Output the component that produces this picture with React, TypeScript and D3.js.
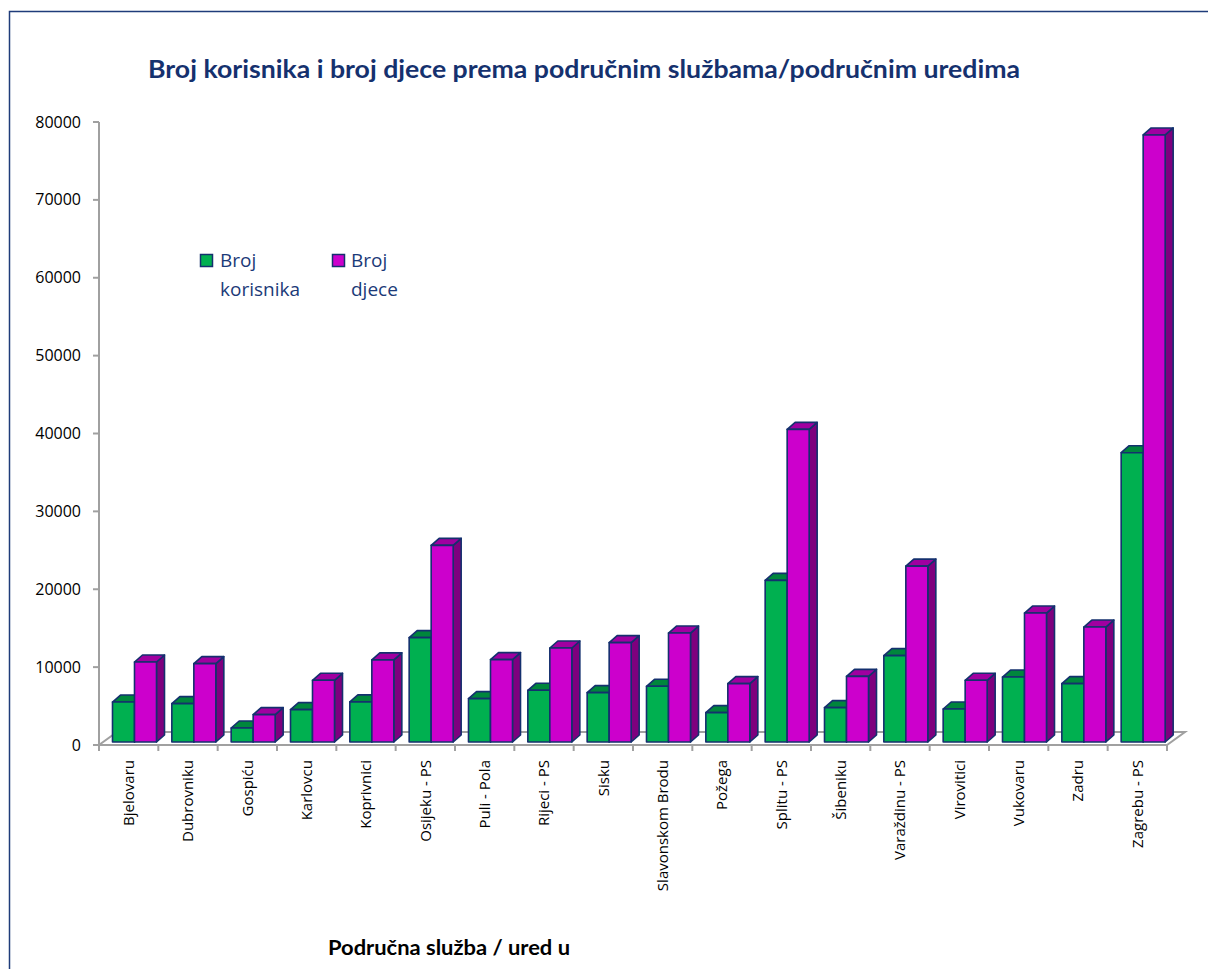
import React from "react";
import * as d3 from "d3";

const categories = [
  "Bjelovaru", "Dubrovniku", "Gospiću", "Karlovcu", "Koprivnici", "Osijeku - PS",
  "Puli - Pola", "Rijeci - PS", "Sisku", "Slavonskom Brodu", "Požega", "Splitu - PS",
  "Šibeniku", "Varaždinu - PS", "Virovitici", "Vukovaru", "Zadru", "Zagrebu - PS",
];
const brojKorisnika = [5130, 4930, 1800, 4160, 5150, 13400, 5570, 6640, 6340, 7150, 3770, 20760, 4420, 11090, 4240, 8340, 7500, 37150];
const brojDjece = [10270, 10060, 3520, 7920, 10550, 25250, 10580, 12070, 12760, 13990, 7500, 40140, 8430, 22590, 7920, 16560, 14760, 77950];
const yTicks = [0, 10000, 20000, 30000, 40000, 50000, 60000, 70000, 80000];
const seriesNames = ["Broj korisnika", "Broj djece"];

const W = 1208;
const H = 969;
const NAVY = "#14306E";
const AXIS = "#A0A0A0";
const FONT = "'Open Sans', 'DejaVu Sans', sans-serif";

const GREEN = { front: "#00B050", top: "#00863C", side: "#006E30" };
const MAGENTA = { front: "#CC00CC", top: "#A000A0", side: "#7E007E" };

export default function App() {
  const y = d3.scaleLinear().domain([0, 80000]).range([745, 122]);
  const x = d3.scaleBand<string>().domain(categories).range([99, 1167]).padding(0);
  const bw = x.bandwidth();
  const barW = 22;
  const dx = 8;
  const dy = -7;
  const baseShift = 3; // bars sit slightly behind the front floor edge
  const base = y(0) - baseShift;
  const floorDx = 18;
  const floorDy = -13;

  const bar = (bx: number, v: number, c: typeof GREEN, key: string) => {
    const top = y(v) - baseShift;
    const pts = (arr: number[][]) => arr.map((p) => p.join(",")).join(" ");
    return (
      <g key={key} stroke={NAVY} strokeWidth={1.6} strokeLinejoin="round">
        <polygon
          points={pts([[bx + barW, top], [bx + barW + dx, top + dy], [bx + barW + dx, base + dy], [bx + barW, base]])}
          fill={c.side}
        />
        <polygon
          points={pts([[bx, top], [bx + dx, top + dy], [bx + barW + dx, top + dy], [bx + barW, top]])}
          fill={c.top}
        />
        <rect x={bx} y={top} width={barW} height={base - top} fill={c.front} />
      </g>
    );
  };

  const x0 = 99, x1 = 1167, fy = y(0);

  return (
    <svg width={W} height={H} style={{ position: "absolute", left: 0, top: 0, background: "#fff" }} fontFamily={FONT}>
      <rect x={0} y={0} width={W} height={H} fill="#fff" />
      <rect x={9.5} y={11.5} width={1300} height={1100} fill="none" stroke="#1F3C7A" strokeWidth={1.5} />

      <text x={148} y={78} fontFamily="Lato, 'Open Sans', sans-serif" fontWeight="bold" fontSize={24} fill="#15316E"
        textLength={872} lengthAdjust="spacingAndGlyphs">
        Broj korisnika i broj djece prema područnim službama/područnim uredima
      </text>

      {/* floor */}
      <polygon
        points={`${x0},${fy} ${x1},${fy} ${x1 + floorDx},${fy + floorDy} ${x0 + floorDx},${fy + floorDy}`}
        fill="none" stroke={AXIS} strokeWidth={2}
      />
      {/* y axis */}
      <line x1={x0} x2={x0} y1={y(80000)} y2={fy} stroke={AXIS} strokeWidth={2} />
      {yTicks.map((t) => (
        <g key={t}>
          <line x1={x0 - 6} x2={x0} y1={y(t)} y2={y(t)} stroke={AXIS} strokeWidth={2} />
          <text x={81} y={y(t) + 5.5} textAnchor="end" fontSize={16} fill="#000">{t}</text>
        </g>
      ))}
      {/* x ticks */}
      {categories.concat(["__end"]).map((c, i) => {
        const tx = i < categories.length ? (x(c) as number) : x1;
        return <line key={"t" + i} x1={tx} x2={tx} y1={fy} y2={fy + 6} stroke={AXIS} strokeWidth={2} />;
      })}

      {/* bars */}
      {categories.map((c, i) => {
        const bx = x(c) as number;
        return (
          <g key={c}>
            {bar(bx + 13.5, brojKorisnika[i], GREEN, "g")}
            {bar(bx + 13.5 + barW, brojDjece[i], MAGENTA, "m")}
          </g>
        );
      })}

      {/* x labels */}
      {categories.map((c) => {
        const cx = (x(c) as number) + bw / 2;
        return (
          <text key={"l" + c} transform={`translate(${cx},760) rotate(-90)`} textAnchor="end" dy="0.36em" fontSize={15} fill="#000">
            {c}
          </text>
        );
      })}

      {/* legend */}
      <rect x={200.5} y={254.5} width={12} height={12} fill={GREEN.front} stroke={NAVY} strokeWidth={1.5} />
      <text x={220} y={267} fontSize={19} fill="#1B3A78">{seriesNames[0].split(" ")[0]}</text>
      <text x={220} y={296} fontSize={19} fill="#1B3A78">{seriesNames[0].split(" ")[1]}</text>
      <rect x={332.5} y={254.5} width={12} height={12} fill={MAGENTA.front} stroke={NAVY} strokeWidth={1.5} />
      <text x={351} y={267} fontSize={19} fill="#1B3A78">{seriesNames[1].split(" ")[0]}</text>
      <text x={351} y={296} fontSize={19} fill="#1B3A78">{seriesNames[1].split(" ")[1]}</text>

      <text x={328} y={955} fontFamily="Lato, 'Open Sans', sans-serif" fontWeight="bold" fontSize={21} fill="#000"
        textLength={242} lengthAdjust="spacingAndGlyphs">
        Područna služba / ured u
      </text>
    </svg>
  );
}
